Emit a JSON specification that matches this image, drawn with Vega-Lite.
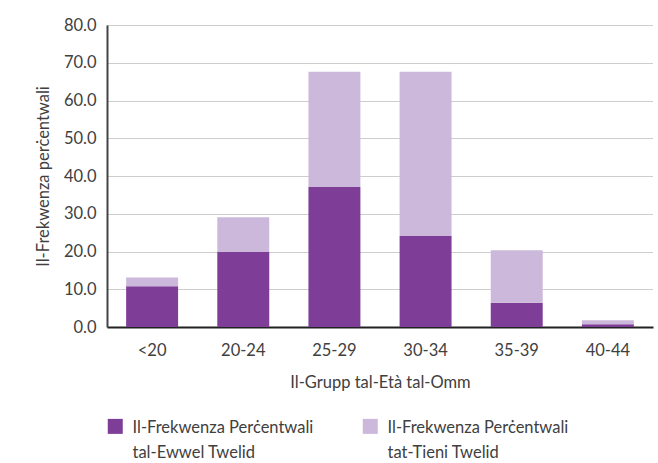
{
  "$schema": "https://vega.github.io/schema/vega-lite/v6.json",
  "width": 546,
  "height": 302,
  "autosize": "none",
  "padding": {"left": 107, "top": 25, "right": 5, "bottom": 136},
  "background": "white",
  "data": {
    "values": [
      {"age": "<20", "series": "Il-Frekwenza Perċentwali tal-Ewwel Twelid", "ord": 1, "value": 10.8},
      {"age": "<20", "series": "Il-Frekwenza Perċentwali tat-Tieni Twelid", "ord": 2, "value": 2.3},
      {"age": "20-24", "series": "Il-Frekwenza Perċentwali tal-Ewwel Twelid", "ord": 1, "value": 19.9},
      {"age": "20-24", "series": "Il-Frekwenza Perċentwali tat-Tieni Twelid", "ord": 2, "value": 9.2},
      {"age": "25-29", "series": "Il-Frekwenza Perċentwali tal-Ewwel Twelid", "ord": 1, "value": 37.1},
      {"age": "25-29", "series": "Il-Frekwenza Perċentwali tat-Tieni Twelid", "ord": 2, "value": 30.5},
      {"age": "30-34", "series": "Il-Frekwenza Perċentwali tal-Ewwel Twelid", "ord": 1, "value": 24.1},
      {"age": "30-34", "series": "Il-Frekwenza Perċentwali tat-Tieni Twelid", "ord": 2, "value": 43.5},
      {"age": "35-39", "series": "Il-Frekwenza Perċentwali tal-Ewwel Twelid", "ord": 1, "value": 6.4},
      {"age": "35-39", "series": "Il-Frekwenza Perċentwali tat-Tieni Twelid", "ord": 2, "value": 13.9},
      {"age": "40-44", "series": "Il-Frekwenza Perċentwali tal-Ewwel Twelid", "ord": 1, "value": 0.7},
      {"age": "40-44", "series": "Il-Frekwenza Perċentwali tat-Tieni Twelid", "ord": 2, "value": 1.1}
    ]
  },
  "mark": {"type": "bar"},
  "encoding": {
    "x": {
      "field": "age",
      "type": "nominal",
      "sort": null,
      "scale": {"paddingInner": 0.43, "paddingOuter": 0.21},
      "axis": {
        "title": "Il-Grupp tal-Età tal-Omm",
        "labelAngle": 0,
        "ticks": false,
        "labelPadding": 15,
        "titlePadding": 16,
        "domainColor": "#222222",
        "domainWidth": 2
      }
    },
    "y": {
      "field": "value",
      "type": "quantitative",
      "stack": "zero",
      "scale": {"domain": [0, 80]},
      "axis": {
        "title": "Il-Frekwenza perċentwali",
        "values": [0, 10, 20, 30, 40, 50, 60, 70, 80],
        "format": ".1f",
        "ticks": false,
        "labelPadding": 11,
        "titlePadding": 12,
        "domainColor": "#444444",
        "domainWidth": 2,
        "grid": true,
        "gridColor": "#9a9a9a",
        "gridDash": [1, 1],
        "gridWidth": 1
      }
    },
    "color": {
      "field": "series",
      "type": "nominal",
      "scale": {
        "domain": ["Il-Frekwenza Perċentwali tal-Ewwel Twelid", "Il-Frekwenza Perċentwali tat-Tieni Twelid"],
        "range": ["#7e3d96", "#cbb8da"]
      },
      "legend": {
        "title": null,
        "orient": "none",
        "legendX": 0,
        "legendY": 393,
        "direction": "horizontal",
        "columns": 2,
        "columnPadding": 48,
        "symbolType": "square",
        "symbolSize": 225,
        "symbolStrokeWidth": 0,
        "labelExpr": "[substring(datum.label, 0, 24), substring(datum.label, 25)]",
        "labelLimit": 300,
        "labelOffset": 9,
        "labelBaseline": "top",
        "encode": {
          "labels": {
            "update": {
              "lineHeight": {"value": 25},
              "dy": {"value": -6}
            }
          }
        }
      }
    },
    "order": {"field": "ord", "type": "quantitative"}
  },
  "config": {
    "font": "Lato",
    "view": {"stroke": null},
    "axis": {
      "labelFont": "Lato",
      "labelFontSize": 16.5,
      "labelColor": "#404040",
      "titleFont": "Lato",
      "titleFontSize": 16.5,
      "titleFontWeight": "normal",
      "titleColor": "#404040"
    },
    "axisX": {"grid": false},
    "legend": {
      "labelFont": "Lato",
      "labelFontSize": 16.5,
      "labelColor": "#404040"
    }
  }
}
